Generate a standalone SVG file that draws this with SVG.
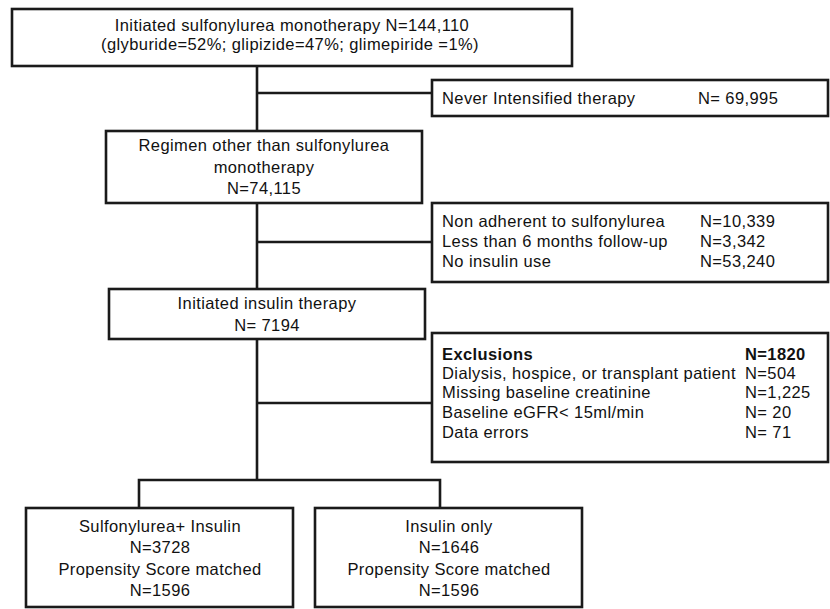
<svg xmlns="http://www.w3.org/2000/svg" width="830" height="609" viewBox="0 0 830 609">
<style>
.box{fill:#fff;stroke:#1a1a1a;stroke-width:2.6}
.ln{fill:none;stroke:#1a1a1a;stroke-width:2.6}
text{font-family:"Liberation Sans",Arial,sans-serif;font-size:16.5px;letter-spacing:0.4px;fill:#111}
.c{text-anchor:middle}
.b{font-weight:bold}
</style>
<rect width="830" height="609" fill="#fff"/>
<g id="connectors">
<path class="ln" d="M257,66 V131 M257,93 H432"/>
<path class="ln" d="M257,203 V289 M257,242 H432"/>
<path class="ln" d="M257,339 V480 M257,403 H432"/>
<path class="ln" d="M139,508 V480 H440 V508"/>
</g>
<g id="n1">
<rect class="box" x="12" y="9" width="560" height="57"/>
<text class="c" x="292" y="31">Initiated sulfonylurea monotherapy N=144,110</text>
<text class="c" x="290" y="50">(glyburide=52%; glipizide=47%; glimepiride =1%)</text>
</g>
<g id="n2">
<rect class="box" x="432" y="80" width="396" height="36"/>
<text x="442" y="104">Never Intensified therapy</text>
<text x="698" y="104">N= 69,995</text>
</g>
<g id="n3">
<rect class="box" x="106" y="131" width="316" height="72"/>
<text class="c" x="264" y="151">Regimen other than sulfonylurea</text>
<text class="c" x="264" y="173">monotherapy</text>
<text class="c" x="264" y="194">N=74,115</text>
</g>
<g id="n4">
<rect class="box" x="432" y="203" width="396" height="79"/>
<text x="442" y="227">Non adherent to sulfonylurea</text>
<text x="700" y="227">N=10,339</text>
<text x="442" y="247">Less than 6 months follow-up</text>
<text x="700" y="247">N=3,342</text>
<text x="442" y="267">No insulin use</text>
<text x="700" y="267">N=53,240</text>
</g>
<g id="n5">
<rect class="box" x="109" y="289" width="316" height="50"/>
<text class="c" x="267" y="309">Initiated insulin therapy</text>
<text class="c" x="267" y="331">N= 7194</text>
</g>
<g id="n6">
<rect class="box" x="432" y="333" width="396" height="129"/>
<text class="b" x="442" y="360">Exclusions</text>
<text class="b" x="745" y="360">N=1820</text>
<text x="442" y="379">Dialysis, hospice, or transplant patient</text>
<text x="745" y="379">N=504</text>
<text x="442" y="398">Missing baseline creatinine</text>
<text x="745" y="398">N=1,225</text>
<text x="442" y="418">Baseline eGFR&lt; 15ml/min</text>
<text x="745" y="418">N= 20</text>
<text x="442" y="438">Data errors</text>
<text x="745" y="438">N= 71</text>
</g>
<g id="n7">
<rect class="box" x="26" y="508" width="267" height="99"/>
<text class="c" x="160" y="532">Sulfonylurea+ Insulin</text>
<text class="c" x="160" y="553">N=3728</text>
<text class="c" x="160" y="575">Propensity Score matched</text>
<text class="c" x="160" y="596">N=1596</text>
</g>
<g id="n8">
<rect class="box" x="315" y="508" width="267" height="99"/>
<text class="c" x="449" y="532">Insulin only</text>
<text class="c" x="449" y="553">N=1646</text>
<text class="c" x="449" y="575">Propensity Score matched</text>
<text class="c" x="449" y="596">N=1596</text>
</g>
</svg>
